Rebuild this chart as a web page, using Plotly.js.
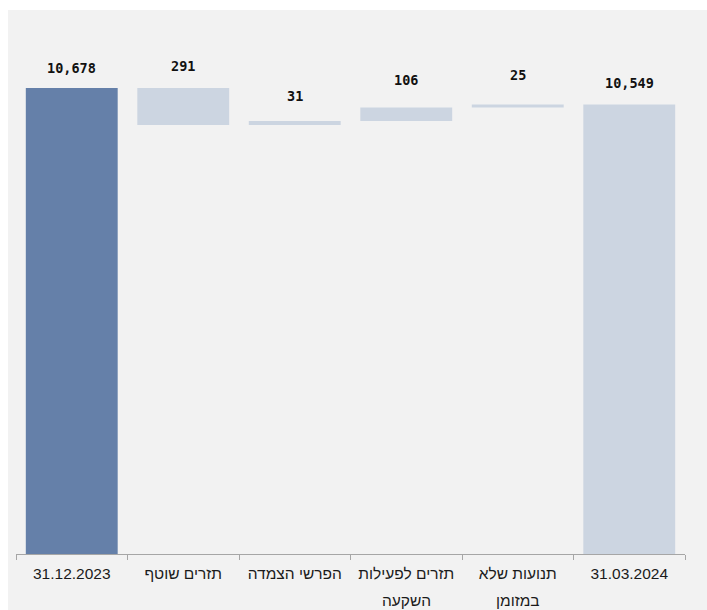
<!DOCTYPE html>
<html>
<head>
<meta charset="utf-8">
<script src="https://cdn.plot.ly/plotly-3.0.1.min.js"></script>
<style>
  html, body { margin: 0; padding: 0; background: #ffffff; }
  #chart { position: absolute; left: 8px; top: 10px; width: 699px; height: 600px; }
</style>
</head>
<body>
<div id="chart"></div>
<script>
// ---- data ----
const categories = ["31.12.2023", "תזרים שוטף", "הפרשי הצמדה", "תזרים לפעילות השקעה", "תנועות שלא במזומן", "31.03.2024"];
const labelLine1 = ["31.12.2023", "תזרים שוטף", "הפרשי הצמדה", "תזרים לפעילות", "תנועות שלא", "31.03.2024"];
const labelLine2 = ["", "", "", "השקעה", "במזומן", ""];
const measures = ["absolute", "relative", "relative", "relative", "relative", "total"];
const values = [10678, -291, 31, 106, 25, 10549];
const valueLabels = ["10,678", "291", "31", "106", "25", "10,549"];

// ---- styles ----
const barColors = ["#6580a9", "#ccd5e1", "#ccd5e1", "#ccd5e1", "#ccd5e1", "#ccd5e1"];
const labelShift = [10, 12, 15, 18, 19, 11];

// compute bar bases/heights from the waterfall values
const bases = [], heights = [], tops = [];
let running = 0;
for (let i = 0; i < values.length; i++) {
  if (measures[i] === "absolute" || measures[i] === "total") {
    bases.push(0); heights.push(values[i]); running = values[i];
    tops.push(values[i]);
  } else {
    const b = running; running += values[i];
    bases.push(b); heights.push(values[i]);
    tops.push(Math.max(b, running));
  }
}

const trace = {
  type: "bar",
  x: categories,
  y: heights,
  base: bases,
  marker: { color: barColors, line: { width: 0 } },
  hoverinfo: "skip",
  showlegend: false
};

const catFont = { family: "Liberation Sans", size: 15.5, color: "#1a1a1a" };

const annotations = [];
for (let i = 0; i < categories.length; i++) {
  annotations.push({
    x: categories[i], y: tops[i], xref: "x", yref: "y",
    text: valueLabels[i], showarrow: false, yanchor: "bottom",
    yshift: labelShift[i],
    font: { family: "DejaVu Sans Mono", size: 13.5, color: "#111111", weight: "bold" }
  });
  if (labelLine2[i]) {
    annotations.push({
      x: categories[i], y: 0, xref: "x", yref: "paper",
      text: labelLine2[i], showarrow: false, yanchor: "middle",
      yshift: -46,
      font: catFont
    });
  }
}

const layout = {
  width: 699, height: 600,
  margin: { l: 8, r: 22, t: 10, b: 56 },
  paper_bgcolor: "#f2f2f2",
  plot_bgcolor: "#f2f2f2",
  bargap: 0.176,
  font: catFont,
  xaxis: {
    type: "category",
    tickvals: categories,
    ticktext: labelLine1,
    showline: true, linecolor: "#a6a6a6", linewidth: 1,
    ticks: "outside", tickson: "boundaries", ticklen: 5, tickcolor: "#a6a6a6",
    ticklabelstandoff: 5,
    showgrid: false, zeroline: false,
    tickfont: catFont,
    fixedrange: true
  },
  yaxis: {
    range: [7000, 11215],
    visible: false, showgrid: false, zeroline: false
  },
  annotations: annotations,
  showlegend: false
};

Plotly.newPlot("chart", [trace], layout, { displayModeBar: false, staticPlot: true });
</script>
</body>
</html>
